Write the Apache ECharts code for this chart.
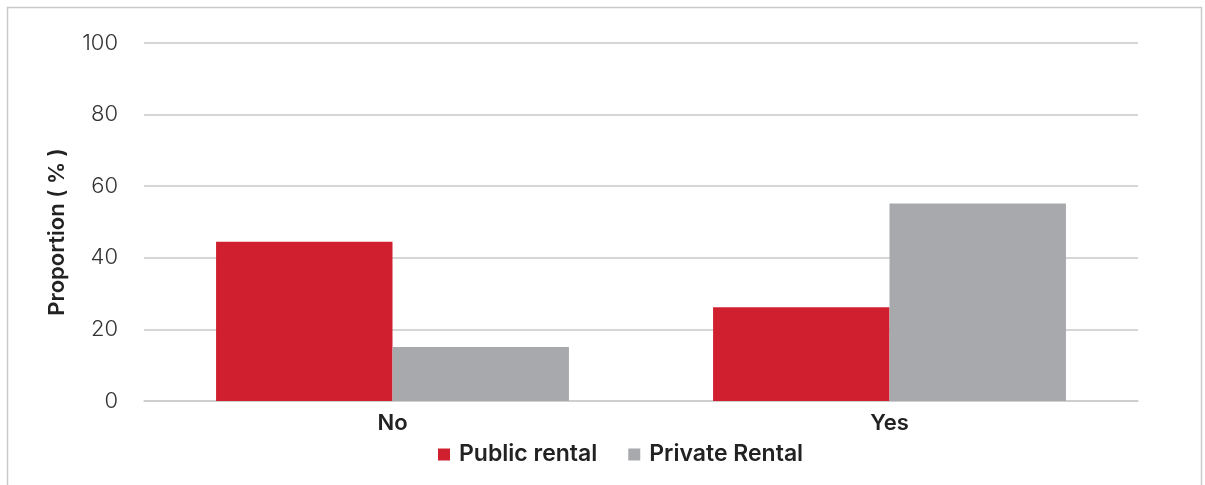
<!DOCTYPE html>
<html>
<head>
<meta charset="utf-8">
<script src="https://cdn.jsdelivr.net/npm/echarts@6/dist/echarts.min.js"></script>
<style>
  html, body { margin: 0; padding: 0; background: #fff; }
  #chart { width: 1205px; height: 485px; }
</style>
</head>
<body>
<div id="chart"></div>
<script>
// Tenure type by response
const categories = ['No', 'Yes'];
const publicRental = [44.5, 26.2];
const privateRental = [15.1, 55.2];
const yTicks = [0, 20, 40, 60, 80, 100];

const FONT = 'Inter, "Open Sans", sans-serif';

const chart = echarts.init(document.getElementById('chart'), null, { renderer: 'canvas' });
chart.setOption({
  animation: false,
  backgroundColor: '#ffffff',
  graphic: [{
    type: 'rect',
    shape: { x: 7.5, y: 7.5, width: 1194, height: 520 },
    style: { fill: 'none', stroke: '#c9c9c9', lineWidth: 1.5 },
    silent: true
  }],
  grid: { left: 144, right: 67, top: 43, bottom: 84, containLabel: false },
  legend: {
    top: 438,
    left: 433,
    itemWidth: 12,
    itemHeight: 12,
    itemGap: 31,
    icon: 'rect',
    textStyle: { fontFamily: FONT, fontSize: 23, fontWeight: 600, color: '#222', padding: [0, 0, 0, 4] },
    data: ['Public rental', 'Private Rental']
  },
  xAxis: {
    type: 'category',
    data: categories,
    axisLine: { show: true, lineStyle: { color: '#cccccc', width: 1.5 } },
    axisTick: { show: false },
    axisLabel: { fontFamily: FONT, fontSize: 22, fontWeight: 600, color: '#222', margin: 11 }
  },
  yAxis: {
    type: 'value',
    min: yTicks[0],
    max: yTicks[yTicks.length - 1],
    interval: 20,
    name: 'Proportion ( % )',
    nameLocation: 'middle',
    nameGap: 76,
    nameTextStyle: { fontFamily: FONT, fontSize: 22, fontWeight: 600, color: '#222', padding: [0, 20, 0, 0] },
    axisLine: { show: false },
    axisTick: { show: false },
    axisLabel: { fontFamily: FONT, fontSize: 22, fontWeight: 300, color: '#333', margin: 26 },
    splitLine: { lineStyle: { color: '#c8c8c8', width: 1.5 } }
  },
  series: [
    {
      name: 'Public rental',
      type: 'bar',
      data: publicRental,
      itemStyle: { color: '#d0202f' },
      barGap: '0%',
      barCategoryGap: '29%'
    },
    {
      name: 'Private Rental',
      type: 'bar',
      data: privateRental,
      itemStyle: { color: '#a8a9ac' },
      barGap: '0%',
      barCategoryGap: '29%'
    }
  ]
});
</script>
</body>
</html>
